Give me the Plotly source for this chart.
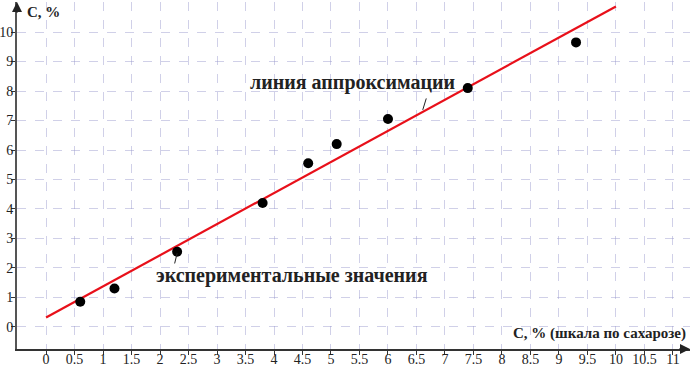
import plotly.graph_objects as go

# experimental points
exp_x = [0.6, 1.2, 2.3, 3.8, 4.6, 5.1, 6.0, 7.4, 9.3]
exp_y = [0.85, 1.3, 2.55, 4.2, 5.55, 6.2, 7.05, 8.1, 9.65]

# approximation line
fit_x = [0, 10]
fit_y = [0.32, 10.87]

x_ticks = [0, 0.5, 1, 1.5, 2, 2.5, 3, 3.5, 4, 4.5, 5, 5.5, 6, 6.5, 7, 7.5, 8, 8.5, 9, 9.5, 10, 10.5, 11]
y_ticks = [0, 1, 2, 3, 4, 5, 6, 7, 8, 9, 10]

x_title = "C, % (шкала по сахарозе)"
y_title = "C, %"
fit_label = "линия аппроксимации"
exp_label = "экспериментальные значения"

SERIF = "Times New Roman, Liberation Serif, DejaVu Serif, serif"

fig = go.Figure()
fig.add_trace(go.Scatter(x=fit_x, y=fit_y, mode="lines",
                         line=dict(color="#e8101a", width=2.2), showlegend=False))
fig.add_trace(go.Scatter(x=exp_x, y=exp_y, mode="markers",
                         marker=dict(color="black", size=10), showlegend=False))

grid = "rgba(150,150,205,0.45)"
fig.update_layout(
    width=692, height=366,
    margin=dict(l=17, r=2, t=2, b=17),
    paper_bgcolor="white", plot_bgcolor="white",
    font=dict(family=SERIF, size=14, color="#222"),
    xaxis=dict(range=[-0.51, 11.3], tickvals=x_ticks, ticktext=[f"{v:g}" for v in x_ticks],
               showline=True, linecolor="#333", linewidth=2,
               ticks="outside", ticklen=0, tickcolor="#333",
               minor=dict(tickvals=x_ticks, ticks="outside", ticklen=4, tickcolor="#333", showgrid=False),
               showgrid=True, gridcolor=grid, griddash="dash", gridwidth=1,
               zeroline=False, automargin=False, fixedrange=True, ticklabelstandoff=-4,
               tickfont=dict(family=SERIF, size=14, color="#222")),
    yaxis=dict(range=[-0.75, 11.02], tickvals=y_ticks,
               showline=True, linecolor="#555", linewidth=2,
               ticks="outside", ticklen=0, tickcolor="#333",
               minor=dict(tickvals=y_ticks, ticks="outside", ticklen=4, tickcolor="#333", showgrid=False),
               showgrid=True, gridcolor=grid, griddash="dash", gridwidth=1,
               zeroline=False, automargin=False, fixedrange=True, ticklabelstandoff=-1,
               tickfont=dict(family=SERIF, size=14, color="#222")),
)

# axis arrows
fig.add_annotation(x=1.0, y=0, xref="paper", yref="paper", ax=-12, ay=0,
                   showarrow=True, arrowhead=2, arrowsize=1, arrowwidth=2, arrowcolor="#222", text="")
fig.add_annotation(x=0, y=1.0, xref="paper", yref="paper", ax=0, ay=12,
                   showarrow=True, arrowhead=2, arrowsize=1, arrowwidth=2, arrowcolor="#222", text="")

# axis titles
fig.add_annotation(x=0.997, y=0.015, xref="paper", yref="paper", xanchor="right", yanchor="bottom",
                   text=f"<b>{x_title}</b>", showarrow=False, font=dict(family=SERIF, size=15, color="#222"))
fig.add_annotation(x=0.012, y=1.0, xref="paper", yref="paper", xanchor="left", yanchor="top",
                   text=f"<b>{y_title}</b>", showarrow=False, font=dict(family=SERIF, size=15, color="#222"))

# labels with leader lines
fig.add_annotation(x=6.61, y=7.36, xref="x", yref="y", ax=6.68, ay=7.8, axref="x", ayref="y",
                   text="", showarrow=True, arrowhead=0, arrowwidth=1, arrowcolor="#222")
fig.add_annotation(x=5.37, y=8.3, xref="x", yref="y", xanchor="center", yanchor="middle",
                   text=f"<b>{fit_label}</b>", showarrow=False, font=dict(family=SERIF, size=20, color="#222"))
fig.add_annotation(x=2.3, y=2.5, xref="x", yref="y", ax=2.25, ay=2.1, axref="x", ayref="y",
                   text="", showarrow=True, arrowhead=0, arrowwidth=1, arrowcolor="#222")
fig.add_annotation(x=4.32, y=1.73, xref="x", yref="y", xanchor="center", yanchor="middle",
                   text=f"<b>{exp_label}</b>", showarrow=False, font=dict(family=SERIF, size=20, color="#222"))

fig.write_html("out.html", config={"displayModeBar": False},
               post_script="document.body.style.margin='0';")
